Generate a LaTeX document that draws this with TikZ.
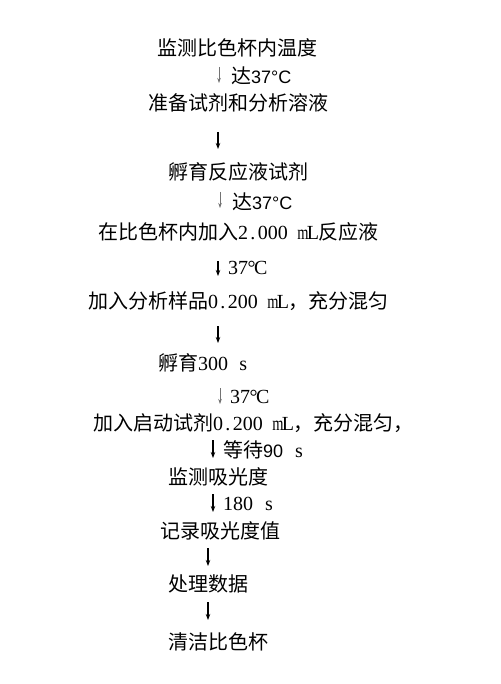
\documentclass[tikz,border=0pt]{standalone}
\usepackage{fontspec}
\setmainfont{Liberation Serif}
\newfontfamily\cjkf{Noto Sans CJK SC}
\newfontfamily\sansf{Liberation Sans}
\usetikzlibrary{arrows.meta}
\newcommand\hcx[1]{\makebox[10pt]{#1}}
\newcommand\mmx{\hcx{\scalebox{0.72}[1]{m}}}
\tikzset{
  txt/.style={inner sep=0pt, font=\fontsize{20}{24}\selectfont, text=black},
  lbl/.style={inner sep=0pt, anchor=west, font=\fontsize{20}{24}\selectfont, text=black},
  darr/.style={-{Stealth[length=6pt,width=4.5pt]}, line width=1.1pt, black},
  larr/.style={-{Stealth[length=5pt,width=3.5pt]}, line width=0.6pt, black!55}
}
\begin{document}
\begin{tikzpicture}[x=1pt,y=-1pt]
\useasboundingbox (0,0) rectangle (500,684);
% steps
\node[txt] (s1) at (237,48) {\cjkf 监测比色杯内温度};
\node[txt] (s2) at (238,103) {\cjkf 准备试剂和分析溶液};
\node[txt] (s3) at (238,172) {\cjkf 孵育反应液试剂};
\node[txt] (s4) at (238,232) {{\cjkf 在比色杯内加入}\hcx2\hcx.\hcx0\hcx0\hcx0\hspace{10pt}\mmx\hcx{L}{\cjkf 反应液}};
\node[txt] (s5) at (238,301) {{\cjkf 加入分析样品}\hcx0\hcx.\hcx2\hcx0\hcx0\hspace{10pt}\mmx\hcx{L}{\cjkf ，充分混匀}};
\node[txt, anchor=west] (s6) at (158,363) {{\cjkf 孵育}\hcx3\hcx0\hcx0\hspace{10pt}\hcx{s}};
\node[txt] (s7) at (253,423) {{\cjkf 加入启动试剂}\hcx0\hcx.\hcx2\hcx0\hcx0\hspace{10pt}\mmx\hcx{L}{\cjkf ，充分混匀，}};
\node[txt, anchor=west] (s8) at (168,477) {\cjkf 监测吸光度};
\node[txt, anchor=west] (s9) at (160,531) {\cjkf 记录吸光度值};
\node[txt, anchor=west] (s10) at (168,584) {\cjkf 处理数据};
\node[txt, anchor=west] (s11) at (168,642) {\cjkf 清洁比色杯};
% arrow coordinates
\coordinate (a1t) at (219,67);  \coordinate (a1b) at (219,83);
\coordinate (a2t) at (218,132); \coordinate (a2b) at (218,149);
\coordinate (a3t) at (220,192); \coordinate (a3b) at (220,208);
\coordinate (a4t) at (218,261); \coordinate (a4b) at (218,276);
\coordinate (a5t) at (218,326); \coordinate (a5b) at (218,343);
\coordinate (a6t) at (220,388); \coordinate (a6b) at (220,404);
\coordinate (a7t) at (213,440); \coordinate (a7b) at (213,458);
\coordinate (a8t) at (213,494); \coordinate (a8b) at (213,512);
\coordinate (a9t) at (208,548); \coordinate (a9b) at (208,566);
\coordinate (a10t) at (208,602); \coordinate (a10b) at (208,620);
\draw[larr] (a1t) -- (a1b);
\draw[darr] (a2t) -- (a2b);
\draw[larr] (a3t) -- (a3b);
\draw[darr] (a4t) -- (a4b);
\draw[darr] (a5t) -- (a5b);
\draw[larr] (a6t) -- (a6b);
\draw[darr] (a7t) -- (a7b);
\draw[darr] (a8t) -- (a8b);
\draw[darr] (a9t) -- (a9b);
\draw[darr] (a10t) -- (a10b);
% arrow labels
\node[lbl] (l1) at (231,76) {{\cjkf 达}{\sansf\fontsize{18}{22}\selectfont 37°C}};
\node[lbl] (l3) at (232,202) {{\cjkf 达}{\sansf\fontsize{18}{22}\selectfont 37°C}};
\node[lbl] (l4) at (228,268) {37\kern-0.5pt°\kern-1.5pt C};
\node[lbl] (l6) at (230,397) {37\kern-0.5pt°\kern-1.5pt C};
\node[lbl] (l7) at (223,450) {{\cjkf 等待}{\sansf\fontsize{18}{22}\selectfont 90}\hspace{12pt}s};
\node[lbl] (l8) at (223,504) {180\hspace{12pt}s};
\end{tikzpicture}
\end{document}
